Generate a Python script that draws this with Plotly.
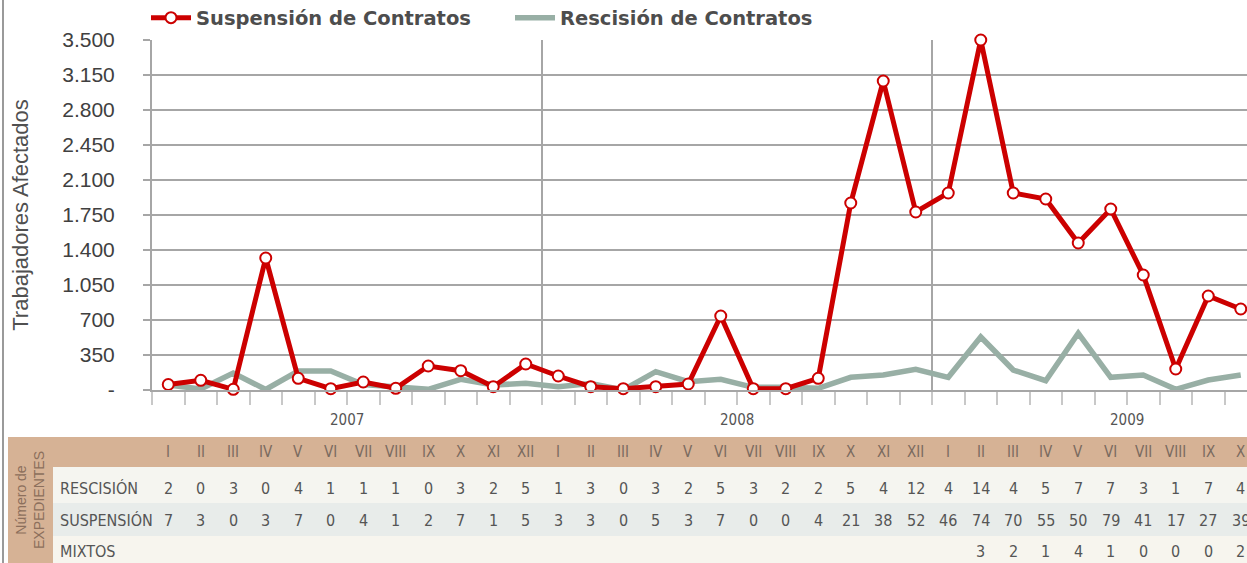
import plotly.graph_objects as go

# ---------------- data ----------------
roman = ["I", "II", "III", "IV", "V", "VI", "VII", "VIII", "IX", "X", "XI", "XII"]
years = ["2007", "2008", "2009"]
n_months = 34
month_labels = (roman * 3)[:n_months]

suspension = [55, 97, 7, 1320, 117, 13, 80, 17, 240, 193, 33, 260,
              140, 33, 13, 33, 60, 740, 13, 13, 117, 1870, 3090, 1780,
              1970, 3500, 1970, 1910, 1470, 1810, 1150, 210, 940, 810]
rescision = [50, 10, 170, 5, 190, 190, 55, 33, 7, 107, 50, 67,
             33, 65, 0, 183, 83, 107, 27, 27, 17, 127, 150, 207,
             127, 530, 200, 93, 567, 127, 150, 7, 100, 150]

exp_rescision = [2, 0, 3, 0, 4, 1, 1, 1, 0, 3, 2, 5,
                 1, 3, 0, 3, 2, 5, 3, 2, 2, 5, 4, 12,
                 4, 14, 4, 5, 7, 7, 3, 1, 7, 4]
exp_suspension = [7, 3, 0, 3, 7, 0, 4, 1, 2, 7, 1, 5,
                  3, 3, 0, 5, 3, 7, 0, 0, 4, 21, 38, 52,
                  46, 74, 70, 55, 50, 79, 41, 17, 27, 39]
exp_mixtos = [None] * 25 + [3, 2, 1, 4, 1, 0, 0, 0, 2]

ytick_vals = [0, 350, 700, 1050, 1400, 1750, 2100, 2450, 2800, 3150, 3500]
ytick_text = ["-", "350", "700", "1.050", "1.400", "1.750", "2.100", "2.450", "2.800", "3.150", "3.500"]

row_names = ["RESCISIÓN", "SUSPENSIÓN", "MIXTOS"]

# ---------------- layout helpers ----------------
W, H = 1247, 563
ML, MR, MT, MB = 152, 0, 40, 173
PW, PH = W - ML - MR, H - MT - MB
PX_PER_MONTH = 32.5


def px_x(p):
    return (p - ML) / PW


def px_y(p):
    return (H - MB - p) / PH


x = list(range(n_months))
RED = "#CC0000"
GRAY = "#98AFA5"
GRID = "#A6A6A6"
NARROW = "DejaVu Sans Condensed, Liberation Sans Narrow, Liberation Sans, sans-serif"


def nfont(size, color, family=NARROW):
    return dict(family=family, size=size, color=color)


fig = go.Figure()
fig.add_trace(go.Scatter(
    x=x, y=rescision, mode="lines", name="Rescisión de Contratos",
    line=dict(color=GRAY, width=5.5), legendrank=2, cliponaxis=False))
fig.add_trace(go.Scatter(
    x=x, y=suspension, mode="lines+markers", name="Suspensión de Contratos",
    line=dict(color=RED, width=5),
    marker=dict(symbol="circle", size=11, color="white", line=dict(color=RED, width=2)),
    legendrank=1, cliponaxis=False))

shapes = []
# year separators
for k in range(1, len(years)):
    shapes.append(dict(type="line", xref="x", yref="y", x0=12 * k - 0.5, x1=12 * k - 0.5,
                       y0=0, y1=ytick_vals[-1], line=dict(color=GRID, width=2), layer="below"))
# outer left border of the picture
shapes.append(dict(type="line", xref="paper", yref="paper", x0=px_x(3), x1=px_x(3),
                   y0=px_y(0), y1=px_y(H), line=dict(color="#9A9A9A", width=2)))
# table background
TAN = "#D6B295"
shapes.append(dict(type="rect", xref="paper", yref="paper", x0=px_x(8), x1=px_x(W + 5),
                   y0=px_y(437), y1=px_y(467), fillcolor=TAN, line=dict(width=0)))
shapes.append(dict(type="rect", xref="paper", yref="paper", x0=px_x(8), x1=px_x(53),
                   y0=px_y(437), y1=px_y(H + 5), fillcolor=TAN, line=dict(width=0)))
row_bounds = [(467, 503, "#F5F5F0"), (503, 536, "#E8ECEA"), (536, H + 5, "#F7F5EE")]
for top, bot, col in row_bounds:
    shapes.append(dict(type="rect", xref="paper", yref="paper", x0=px_x(53), x1=px_x(W + 5),
                       y0=px_y(top), y1=px_y(bot), fillcolor=col, line=dict(width=0)))

annotations = []
# year labels
for k, yr in enumerate(years):
    annotations.append(dict(x=12 * k + 5.5, y=px_y(420), xref="x", yref="paper", text=yr,
                            xanchor="center", yanchor="middle",
                            showarrow=False, font=nfont(15, "#555555")))
# header numerals
for i, lab in enumerate(month_labels):
    annotations.append(dict(x=i, y=px_y(452), xref="x", yref="paper", text=lab, showarrow=False,
                            xanchor="center", yanchor="middle", font=nfont(15, "#7A6A5F")))
row_y = [488, 520, 551]
for name, vals, ry in zip(row_names, [exp_rescision, exp_suspension, exp_mixtos], row_y):
    annotations.append(dict(x=px_x(58), y=px_y(ry), xref="paper", yref="paper", text=name,
                            xanchor="left", yanchor="middle", showarrow=False,
                            font=nfont(16, "#555555")))
    for i, v in enumerate(vals):
        if v is None:
            continue
        annotations.append(dict(x=i, y=px_y(ry), xref="x", yref="paper", text=str(v),
                                xanchor="center", yanchor="middle",
                                showarrow=False, font=nfont(16, "#555555")))
annotations.append(dict(x=px_x(30), y=px_y(500), xref="paper", yref="paper",
                        xanchor="center", yanchor="middle",
                        text="Número de<br>EXPEDIENTES", textangle=-90, showarrow=False,
                        font=nfont(14, "#8C6F5C", "Liberation Sans, sans-serif")))

fig.update_layout(
    width=W, height=H,
    margin=dict(l=ML, r=MR, t=MT, b=MB, autoexpand=False),
    paper_bgcolor="white", plot_bgcolor="white",
    font=dict(family="Liberation Sans, Arial, sans-serif", color="#404040"),
    showlegend=True,
    legend=dict(orientation="h", xref="container", yref="container",
                x=146 / W, y=1 - 18 / H, xanchor="left", yanchor="middle",
                font=dict(family="DejaVu Sans, Liberation Sans, sans-serif", size=19.5,
                          color="#4D4D4D", weight="bold"),
                bgcolor="rgba(0,0,0,0)", itemwidth=40, entrywidth=309),
    shapes=shapes, annotations=annotations,
)
fig.update_xaxes(range=[-0.5, -0.5 + PW / PX_PER_MONTH], showgrid=False, zeroline=False,
                 tickvals=[i - 0.5 for i in range(n_months + 1)], ticks="outside", ticklen=13,
                 tickcolor="#C8C8C8", tickwidth=1.5, showticklabels=False,
                 showline=True, linecolor=GRID, linewidth=2)
fig.update_yaxes(range=[0, ytick_vals[-1]], tickvals=ytick_vals, ticktext=ytick_text,
                 showgrid=True, gridcolor=GRID, gridwidth=2, zeroline=False,
                 showline=True, linecolor=GRID, linewidth=2,
                 ticks="outside", ticklen=7, tickcolor=GRID, tickwidth=2,
                 ticklabelstandoff=24, tickfont=dict(size=21, color="#404040"),
                 title=dict(text="Trabajadores Afectados", standoff=28,
                            font=dict(size=22, color="#505050")))

fig.write_html("out.html", config={"displayModeBar": False},
               post_script="document.body.style.margin='0px';")
